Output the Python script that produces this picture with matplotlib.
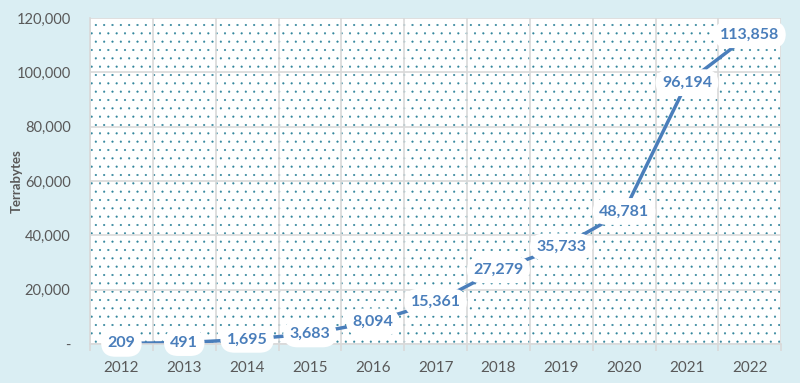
import matplotlib.pyplot as plt
from matplotlib.ticker import FuncFormatter, MultipleLocator, FixedLocator

years = ['2012', '2013', '2014', '2015', '2016', '2017', '2018', '2019', '2020', '2021', '2022']
terabytes = [209, 491, 1695, 3683, 8094, 15361, 27279, 35733, 48781, 96194, 113858]

bg = '#DAEEF3'
blue = '#4A7EBB'
grey = '#595959'

plt.rcParams['font.family'] = ['Lato', 'DejaVu Sans']
plt.rcParams['hatch.linewidth'] = 0.3

fig = plt.figure(figsize=(8, 3.83), dpi=100)
fig.patch.set_facecolor(bg)
ax = fig.add_axes([0.1125, 0.102, 0.864, 0.851])
ax.set_facecolor('white')
ax.patch.set_hatch('..')
ax.patch.set_edgecolor('#31859C')
ax.patch.set_linewidth(0)

x = list(range(len(years)))
ax.plot(x, terabytes, color=blue, lw=2.5, zorder=2, solid_capstyle='round')
for xi, v in zip(x, terabytes):
    ax.text(xi, v, f'{v:,}', ha='center', va='center', fontsize=11.5,
            fontweight='bold', color=blue, zorder=3,
            bbox=dict(boxstyle='round,pad=0.4,rounding_size=0.9', fc='white', ec='none'))

ax.set_xlim(-0.5, len(years) - 0.5)
ax.set_ylim(0, 120000)
ax.yaxis.set_major_locator(MultipleLocator(20000))
ax.yaxis.set_major_formatter(FuncFormatter(lambda v, p: '-' if v == 0 else f'{int(v):,}'))
ax.set_xticks(x)
ax.set_xticklabels(years)
ax.xaxis.set_minor_locator(FixedLocator([i + 0.5 for i in range(-1, len(years))]))

ax.grid(axis='y', which='major', color='#D9D9D9', lw=1.2, zorder=1)
ax.grid(axis='x', which='minor', color='#D9D9D9', lw=1.2, zorder=1)
ax.set_axisbelow(True)

ax.tick_params(axis='x', which='major', length=0, pad=12, labelsize=11, labelcolor=grey)
ax.tick_params(axis='x', which='minor', length=5, color='#D9D9D9', width=1.2)
ax.tick_params(axis='y', length=0, pad=14, labelsize=10.5, labelcolor=grey)

for s in ['top', 'right']:
    ax.spines[s].set_visible(False)
for s in ['left', 'bottom']:
    ax.spines[s].set_color('#D9D9D9')
    ax.spines[s].set_linewidth(1.2)

ax.set_ylabel('Terrabytes', fontsize=9.5, fontweight='bold', color=grey)
ax.yaxis.set_label_coords(-0.098, 0.5)

plt.savefig('out.png', dpi=100, facecolor=bg)
